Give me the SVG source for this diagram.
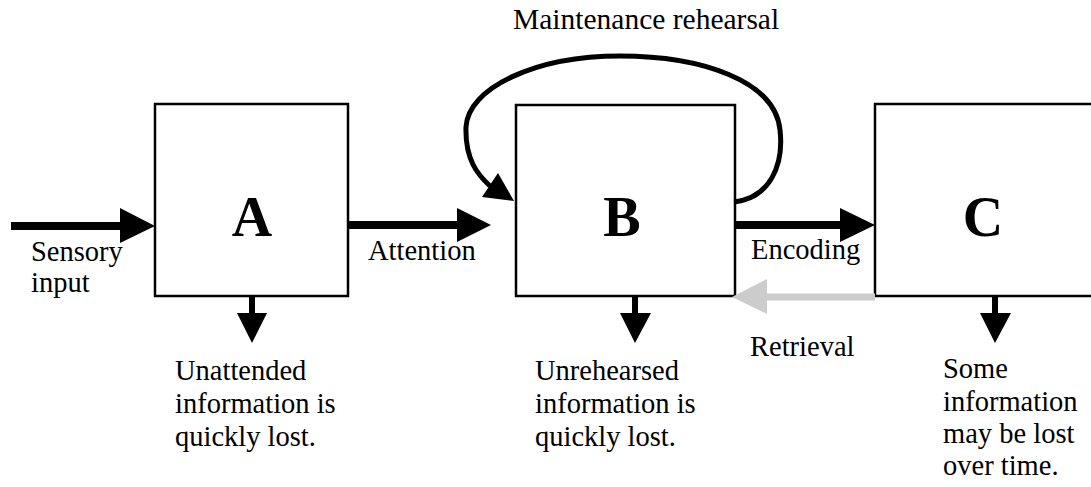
<svg xmlns="http://www.w3.org/2000/svg" width="1091" height="487" viewBox="0 0 1091 487">
<style>
.box{fill:#fff;stroke:#000;stroke-width:2.5}
.big{font-family:"Liberation Serif",serif;font-weight:bold;font-size:56px;text-anchor:middle;fill:#000}
.t{font-family:"Liberation Serif",serif;font-size:28.5px;fill:#000}
.ln{stroke:#000;stroke-width:8;fill:none}
.dn{stroke:#000;stroke-width:6;fill:none}
.hd{fill:#000}
.gr{stroke:#cccccc;stroke-width:7;fill:none}
.ghd{fill:#cccccc}
.loop{stroke:#000;stroke-width:5;fill:none}
</style>
<rect width="1091" height="487" fill="#fff"/>
<g id="nodeA">
<rect class="box" x="155" y="104" width="193" height="192"/>
<text class="big" x="252" y="236">A</text>
</g>
<g id="nodeB">
<rect class="box" x="516" y="105" width="219" height="191"/>
<text class="big" x="622" y="236">B</text>
</g>
<g id="nodeC">
<rect class="box" x="875" y="104" width="218" height="192"/>
<text class="big" x="983" y="236">C</text>
</g>
<g id="connectors">
<line class="ln" x1="11" y1="226" x2="122" y2="226"/>
<polygon class="hd" points="120,208 155,226 120,243"/>
<line class="ln" x1="348" y1="225" x2="459" y2="225"/>
<polygon class="hd" points="457,208 491,225 457,242"/>
<line class="ln" x1="735" y1="225" x2="842" y2="225"/>
<polygon class="hd" points="840,208 875,225 840,242"/>
<line class="gr" x1="875" y1="297" x2="765" y2="297"/>
<polygon class="ghd" points="767,279 732,297 767,314"/>
<line class="dn" x1="252" y1="296" x2="252" y2="315"/>
<polygon class="hd" points="237,313 267,313 252,343"/>
<line class="dn" x1="635" y1="296" x2="635" y2="315"/>
<polygon class="hd" points="620,313 651,313 635,343"/>
<line class="dn" x1="995" y1="296" x2="995" y2="315"/>
<polygon class="hd" points="980,313 1011,313 995,343"/>
<path class="loop" d="M 734 202 C 770 198, 784 165, 780 130 C 775 80, 700 56, 620 56 C 535 56, 468 88, 466 127 C 465 160, 478 175, 490 186"/>
<polygon class="hd" points="482,197 498,173 514,201"/>
</g>
<g id="labels">
<text class="t" x="513" y="29" style="font-size:29.5px">Maintenance rehearsal</text>
<text class="t" x="31" y="261">Sensory</text>
<text class="t" x="31" y="292">input</text>
<text class="t" x="368" y="260">Attention</text>
<text class="t" x="751" y="259">Encoding</text>
<text class="t" x="750" y="356">Retrieval</text>
<text class="t" x="175" y="380">Unattended</text>
<text class="t" x="175" y="413">information is</text>
<text class="t" x="175" y="446">quickly lost.</text>
<text class="t" x="535" y="380">Unrehearsed</text>
<text class="t" x="535" y="413">information is</text>
<text class="t" x="535" y="446">quickly lost.</text>
<text class="t" x="943" y="378">Some</text>
<text class="t" x="943" y="411">information</text>
<text class="t" x="943" y="443">may be lost</text>
<text class="t" x="943" y="475">over time.</text>
</g>
</svg>
